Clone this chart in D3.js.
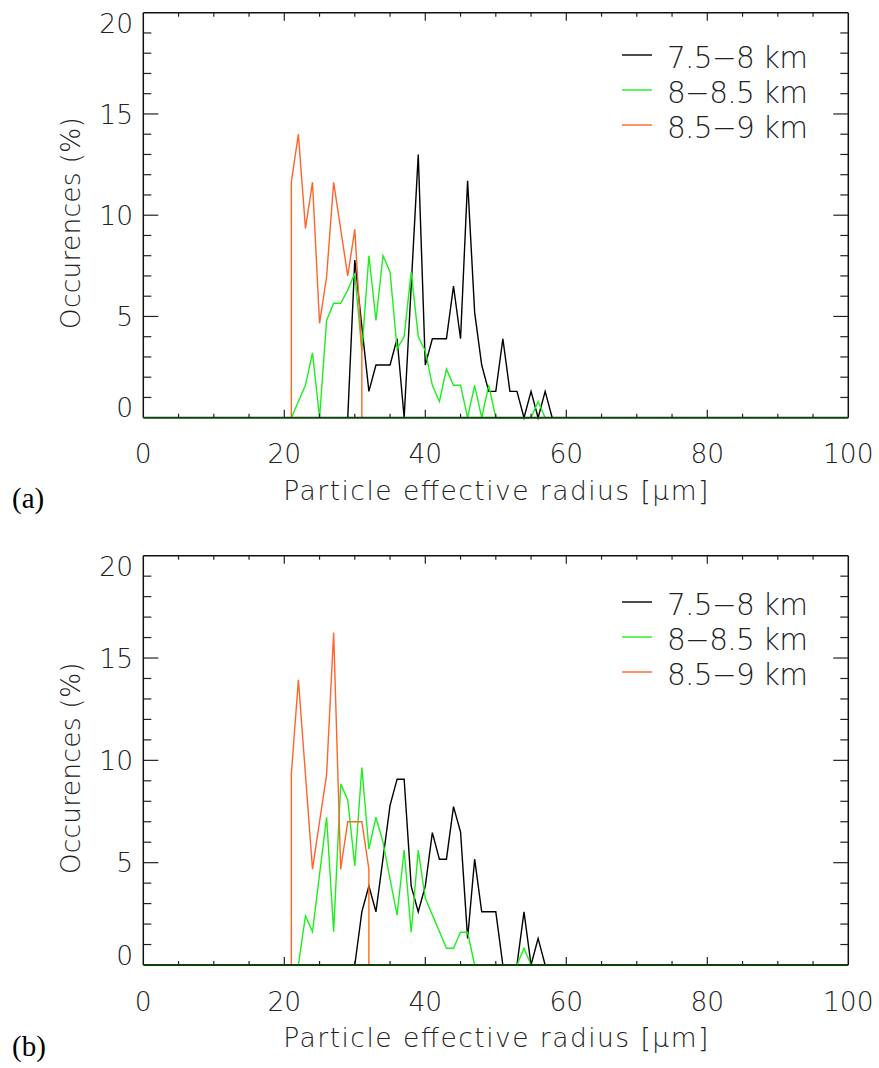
<!DOCTYPE html>
<html><head><meta charset="utf-8">
<script src="https://cdn.jsdelivr.net/npm/d3@7"></script>
<style>body{margin:0;background:#fff}</style></head>
<body>
<script>
// ---------- data ----------
const xTickValues = [0, 20, 40, 60, 80, 100];
const xTickLabels = ["0", "20", "40", "60", "80", "100"];
const yTickValues = [0, 5, 10, 15, 20];
const yTickLabels = ["0", "5", "10", "15", "20"];
const seriesNames = ["7.5\u22128 km", "8\u22128.5 km", "8.5\u22129 km"];
const seriesColors = ["#000000", "#1cf01c", "#ff6428"];

// panel (a)
const aBlackR = [29,30,31,32,33,34,35,36,37,38,39,40,41,42,43,44,45,46,47,48,49,50,51,52,53,54,55,56,57,58];
const aBlackV = [0,7.78,4.5,1.3,2.6,2.6,2.6,3.9,0,6.5,13.0,2.6,3.9,3.9,3.9,6.5,3.9,11.7,5.2,2.6,1.3,1.3,3.9,1.3,1.3,0,1.3,0,1.3,0];
const aGreenR = [21,22,23,24,25,26,27,28,29,30,31,32,33,34,35,36,37,38,39,40,41,42,43,44,45,46,47,48,49,50,51,52,53,54,55,56,57];
const aGreenV = [0,0.8,1.6,3.2,0,4.8,5.65,5.65,6.3,7.13,3.3,8.0,4.8,8.0,7.2,3.4,4.0,7.2,4.0,3.3,1.6,0.8,2.4,1.6,1.6,0,1.6,0,1.6,0,0,0,0,0,0,0.8,0];
const aOrangeR = [21,21,22,23,24,25,26,27,28,29,30,31,31];
const aOrangeV = [0,11.65,14.0,9.35,11.62,4.66,6.96,11.62,9.3,7.0,9.3,3.34,0];

// panel (b)
const bBlackR = [30,31,32,33,34,35,36,37,38,39,40,41,42,43,44,45,46,47,48,49,50,51,52,53,54,55,56,57];
const bBlackV = [0,2.6,3.86,2.6,5.2,7.8,9.08,9.08,3.85,2.6,3.85,6.47,5.17,5.17,7.74,6.5,1.3,5.17,2.6,2.6,2.6,0,0,0,2.6,0,1.3,0];
const bGreenR = [22,23,24,25,26,27,28,29,30,31,32,33,34,35,36,37,38,39,40,41,42,43,44,45,46,47,48,49,50,51,52,53,54,55];
const bGreenV = [0,2.4,1.63,4.43,7.22,1.63,8.85,8.07,4.84,9.65,5.66,7.22,6.0,4.2,2.44,5.62,1.6,5.62,3.26,2.45,1.64,0.82,0.82,1.6,1.6,0,0,0,0,0,0,0,0.82,0];
const bOrangeR = [21,21,22,23,24,25,26,27,28,29,30,31,32,32];
const bOrangeV = [0,9.34,13.94,9.3,4.68,7.0,9.3,16.25,4.68,7.0,7.0,7.0,4.68,0];

const panels = [
  {label: "(a)", series: [[aBlackR, aBlackV], [aGreenR, aGreenV], [aOrangeR, aOrangeV]]},
  {label: "(b)", series: [[bBlackR, bBlackV], [bGreenR, bGreenV], [bOrangeR, bOrangeV]]}
];

// ---------- layout ----------
const W = 879, H = 1068;
const layout = [
  {top: 12.7, bottom: 417.7, dy: 0, legendY: 57},
  {top: 555.7, bottom: 965, dy: 548, legendY: 604}
];
const left = 143.3, right = 848.3;
const FONT = "'DejaVu Sans', 'Liberation Sans', sans-serif";
const WEIGHT = 200;

const svg = d3.select("body").append("svg")
  .attr("width", W).attr("height", H)
  .style("font-family", FONT).style("font-weight", WEIGHT);

const x = d3.scaleLinear().domain([0, 100]).range([left, right]);

panels.forEach((p, i) => {
  const L = layout[i];
  const y = d3.scaleLinear().domain([0, 20]).range([L.bottom, L.top]);
  const g = svg.append("g");

  // data lines
  const line = d3.line().x(d => x(d[0])).y(d => y(d[1]));
  p.series.forEach((s, k) => {
    const pts = s[0].map((r, j) => [r, s[1][j]]);
    g.append("path").datum(pts)
      .attr("d", line)
      .attr("fill", "none")
      .attr("stroke", seriesColors[k])
      .attr("stroke-width", 1.4)
      .attr("stroke-linejoin", "miter");
  });

  // frame
  const ax = g.append("g").attr("stroke", "#111").attr("stroke-width", 1.5).attr("fill", "none");
  ax.append("line").attr("x1", left).attr("x2", left).attr("y1", L.top).attr("y2", L.bottom);
  ax.append("line").attr("x1", right).attr("x2", right).attr("y1", L.top).attr("y2", L.bottom);
  ax.append("line").attr("x1", left).attr("x2", right).attr("y1", L.top).attr("y2", L.top);
  ax.append("line").attr("x1", left).attr("x2", right).attr("y1", L.bottom).attr("y2", L.bottom)
    .attr("stroke", "#0d420d").attr("stroke-width", 2);

  // x ticks (inward, bottom and top)
  const xMinor = d3.range(0, 101, 5).filter(v => v % 20 !== 0);
  const tk = g.append("g").attr("stroke", "#222").attr("stroke-width", 1.2);
  xTickValues.concat(xMinor).forEach(v => {
    const len = (v % 20 === 0) ? 8 : 4;
    if (v === 0 || v === 100) return;
    tk.append("line").attr("x1", x(v)).attr("x2", x(v)).attr("y1", L.bottom).attr("y2", L.bottom - len);
    tk.append("line").attr("x1", x(v)).attr("x2", x(v)).attr("y1", L.top).attr("y2", L.top + len);
  });
  // y ticks (inward, left and right)
  const yMinor = d3.range(0, 21, 1).filter(v => v % 5 !== 0);
  yTickValues.concat(yMinor).forEach(v => {
    const len = (v % 5 === 0) ? 15 : 8;
    if (v === 0 || v === 20) return;
    tk.append("line").attr("y1", y(v)).attr("y2", y(v)).attr("x1", left).attr("x2", left + len);
    tk.append("line").attr("y1", y(v)).attr("y2", y(v)).attr("x1", right).attr("x2", right - len);
  });

  // x tick labels
  xTickValues.forEach((v, j) => {
    g.append("text").attr("x", x(v)).attr("y", L.bottom + 45.5)
      .attr("text-anchor", "middle").attr("font-size", 26.5).attr("fill", "#222")
      .text(xTickLabels[j]);
  });
  // y tick labels
  yTickValues.forEach((v, j) => {
    let by;
    if (v === 0) by = y(v) - 0.5;
    else if (v === 20) by = y(v) + 20;
    else by = y(v) + 9.7;
    g.append("text").attr("x", 133).attr("y", by)
      .attr("text-anchor", "end").attr("font-size", 26.5).attr("fill", "#222")
      .text(yTickLabels[j]);
  });

  // axis titles
  g.append("text").attr("x", (left + right) / 2).attr("y", L.bottom + 82)
    .attr("text-anchor", "middle").attr("font-size", 26.5).attr("fill", "#222")
    .attr("textLength", 425).attr("lengthAdjust", "spacing")
    .text("Particle effective radius [\u03bcm]");

  const yc = (L.top + L.bottom) / 2 + 8;
  g.append("text").attr("transform", `translate(80,${yc}) rotate(-90)`)
    .attr("text-anchor", "middle").attr("font-size", 26.5).attr("fill", "#222")
    .attr("textLength", 212).attr("lengthAdjust", "spacing")
    .text("Occurences (%)");

  // panel label
  svg.append("text").attr("x", 12).attr("y", 508 + L.dy)
    .attr("font-family", "'Liberation Serif', 'Times New Roman', serif")
    .style("font-weight", 400)
    .attr("font-size", 29).attr("fill", "#000").text(p.label);

  // legend
  seriesNames.forEach((name, k) => {
    const ly = L.legendY + k * 35;
    g.append("line").attr("x1", 622).attr("x2", 652).attr("y1", ly - 2).attr("y2", ly - 2)
      .attr("stroke", seriesColors[k]).attr("stroke-width", 1.4);
    g.append("text").attr("x", 667).attr("y", ly + 11)
      .attr("font-size", 29.5).attr("fill", "#222")
      .attr("textLength", 141).attr("lengthAdjust", "spacing")
      .text(name);
  });
});
</script>
</body></html>
